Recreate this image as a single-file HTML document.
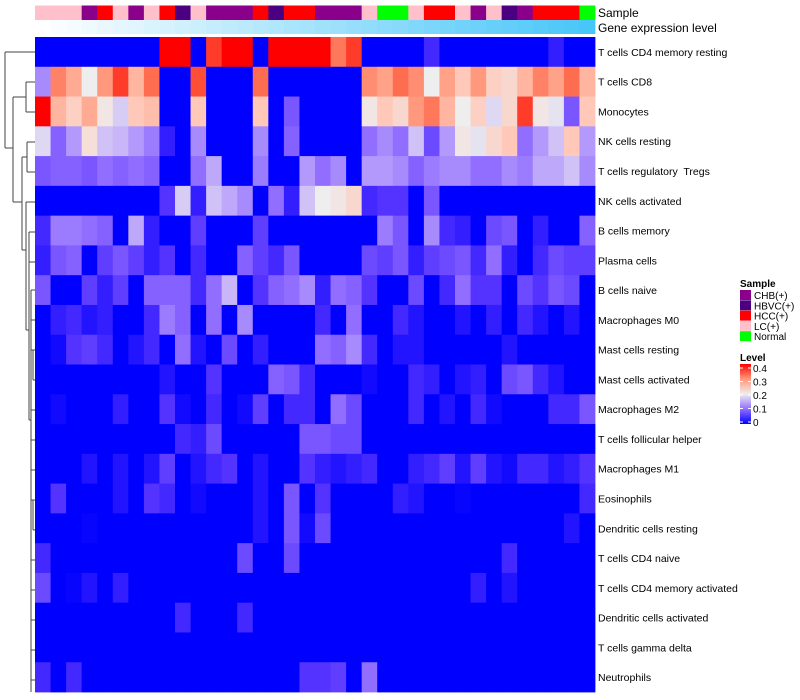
<!DOCTYPE html>
<html><head><meta charset="utf-8"><style>
body{margin:0;background:#fff;font-family:"Liberation Sans",sans-serif}
svg{display:block}
text{white-space:pre}
</style></head><body>
<svg id="chart" width="800" height="700" xmlns="http://www.w3.org/2000/svg"></svg>
<script>
const rowLabels=["T cells CD4 memory resting","T cells CD8","Monocytes","NK cells resting","T cells regulatory  Tregs","NK cells activated","B cells memory","Plasma cells","B cells naive","Macrophages M0","Mast cells resting","Mast cells activated","Macrophages M2","T cells follicular helper","Macrophages M1","Eosinophils","Dendritic cells resting","T cells CD4 naive","T cells CD4 memory activated","Dendritic cells activated","T cells gamma delta","Neutrophils"];
const sampleGroups=["LC","LC","LC","CHB","HCC","LC","CHB","LC","HCC","HBVC","LC","CHB","CHB","CHB","HCC","HBVC","HCC","HCC","CHB","CHB","CHB","LC","Normal","Normal","LC","HCC","HCC","LC","CHB","LC","HBVC","CHB","HCC","HCC","HCC","Normal"];
const legendGroups=["CHB","HBVC","HCC","LC","Normal"];
const legendLabels=["CHB(+)","HBVC(+)","HCC(+)","LC(+)","Normal"];
const levelTicks=[0,0.1,0.2,0.3,0.4];
const v=[
[0,0,0,0,0,0,0,0,0.4,0.4,0,0.37,0.4,0.4,0,0.4,0.4,0.4,0.4,0.33,0.37,0,0,0,0,0.04,0,0,0,0,0,0,0,0.03,0,0],
[0.12,0.32,0.28,0.2,0.3,0.37,0.27,0.34,0,0,0.36,0,0,0,0.34,0,0,0,0,0,0,0.31,0.29,0.34,0.31,0.2,0.29,0.25,0.3,0.24,0.23,0.27,0.32,0.29,0.34,0.27],
[0.4,0.27,0.24,0.28,0.21,0.17,0.25,0.26,0,0,0.25,0,0,0,0.25,0,0.08,0,0,0,0,0.21,0.25,0.23,0.3,0.33,0.27,0.2,0.24,0.18,0.23,0.37,0.21,0.19,0.08,0.25],
[0.18,0.09,0.13,0.22,0.16,0.15,0.13,0.11,0.03,0,0.12,0,0,0,0.12,0,0.09,0,0,0,0,0.1,0.12,0.1,0.16,0.07,0.13,0.21,0.19,0.23,0.25,0.1,0.13,0.16,0.25,0.13],
[0.08,0.09,0.09,0.08,0.1,0.09,0.1,0.09,0,0,0.1,0.14,0,0,0.11,0,0,0.13,0.1,0.12,0,0.13,0.13,0.12,0.09,0.11,0.12,0.12,0.1,0.1,0.12,0.11,0.14,0.14,0.16,0.12],
[0,0,0,0,0,0,0,0,0.05,0.17,0.03,0.16,0.14,0.12,0,0.1,0.03,0.16,0.2,0.21,0.23,0.04,0.05,0.05,0,0.08,0,0,0,0,0,0,0,0,0,0],
[0.04,0.11,0.11,0.1,0.09,0,0.14,0.03,0,0,0.06,0,0,0,0.06,0,0,0,0,0,0,0,0.11,0.08,0,0.12,0.04,0.03,0,0.07,0.08,0,0.03,0,0,0.09],
[0.03,0.08,0.09,0,0.06,0.08,0.06,0.03,0.05,0,0.04,0,0,0.09,0.06,0.04,0.08,0,0,0,0,0.07,0.06,0.08,0.03,0.06,0.07,0.08,0.04,0.1,0.03,0,0.04,0.07,0.06,0.06],
[0.08,0,0,0.06,0.03,0.06,0,0.09,0.09,0.09,0.04,0.1,0.15,0,0.05,0.09,0.1,0.12,0.03,0.1,0.09,0.05,0,0,0.07,0,0.04,0.1,0.05,0.05,0,0.07,0.05,0.08,0.07,0],
[0,0.03,0.04,0.02,0.03,0,0,0.04,0.11,0.09,0,0.1,0,0.12,0,0,0,0,0.04,0,0.1,0,0,0.04,0.02,0,0,0.02,0,0.03,0,0.04,0.02,0,0.02,0],
[0,0.01,0.05,0.06,0.04,0,0.02,0.04,0,0.1,0.02,0,0.07,0,0.03,0,0,0,0.1,0.09,0.12,0.04,0,0.02,0.02,0,0,0,0,0,0.02,0,0,0,0,0],
[0,0,0,0,0,0,0,0,0.02,0,0,0.05,0,0,0,0.09,0.08,0.04,0,0,0,0.01,0,0,0.04,0.03,0,0.02,0.03,0,0.07,0.08,0.04,0.02,0,0],
[0,0.01,0,0,0,0.03,0,0,0.05,0.01,0,0.04,0,0.01,0.06,0,0.04,0.04,0,0.1,0.07,0,0,0,0.04,0,0.02,0,0.04,0.01,0,0,0,0.04,0.04,0.08],
[0,0,0,0,0,0,0,0,0,0.04,0.03,0.07,0,0,0,0,0,0.08,0.08,0.07,0.07,0,0,0,0,0,0,0,0,0,0,0,0,0,0,0],
[0,0,0,0.02,0,0.02,0,0.02,0.06,0,0.02,0.04,0.05,0,0.02,0,0,0.05,0.03,0.02,0.03,0.04,0,0,0.03,0.04,0.06,0.02,0.06,0.02,0.01,0.04,0.04,0.02,0.03,0.05],
[0,0.05,0,0,0,0.02,0,0.05,0.04,0,0.01,0,0,0,0.02,0,0.08,0,0.05,0,0,0,0,0.03,0.02,0,0,0.005,0,0,0,0,0,0,0,0.04],
[0,0,0,0.005,0,0,0,0,0,0,0,0,0,0,0.02,0,0.08,0.01,0.07,0,0,0,0,0,0,0,0,0,0,0,0,0,0,0,0.02,0],
[0.04,0,0,0,0,0,0,0,0,0,0,0,0,0.07,0,0,0.07,0,0,0,0,0,0,0,0,0,0,0,0,0,0.04,0,0,0,0,0],
[0.07,0,0.005,0.02,0,0.03,0,0,0,0,0,0,0,0,0,0,0,0,0,0,0,0,0,0,0,0,0,0,0.03,0,0.02,0,0,0,0,0],
[0,0,0,0,0,0,0,0,0,0.04,0,0,0,0.04,0,0,0,0,0,0,0,0,0,0,0,0,0,0,0,0,0,0,0,0,0,0],
[0,0,0,0,0,0,0,0,0,0,0,0,0,0,0,0,0,0,0,0,0,0,0,0,0,0,0,0,0,0,0,0,0,0,0,0],
[0.04,0,0.04,0,0,0,0,0,0,0,0,0,0,0,0,0,0,0.05,0.05,0.06,0,0.1,0,0,0,0,0,0,0,0,0,0,0,0,0,0]
];
const groupColor={CHB:"#8b008b",HBVC:"#4b0082",HCC:"#ff0000",LC:"#ffc0cb",Normal:"#00ff00"};
const NS="http://www.w3.org/2000/svg";
const svg=document.getElementById('chart');
const X0=35,X1=595,Y0=37,Y1=692;
const nc=sampleGroups.length,nr=rowLabels.length;
const cw=(X1-X0)/nc,rh=(Y1-Y0)/nr;
const xCol=i=>X0+i*cw, yRow=j=>Y0+j*rh;
function mk(t,a){const e=document.createElementNS(NS,t);for(const k in a)e.setAttribute(k,a[k]);svg.appendChild(e);return e;}
function lerp(a,b,t){return a.map((x,i)=>Math.round(x+(b[i]-x)*t));}
const stops=[[0,0,255],[84,50,255],[145,110,255],[200,182,248],[238,238,238],[255,200,184],[255,152,124],[255,98,70],[255,0,0]];
function col(val){const t=Math.max(0,Math.min(1,val/0.4))*(stops.length-1);
 const k=Math.min(stops.length-2,Math.floor(t));const c=lerp(stops[k],stops[k+1],t-k);
 return `rgb(${c[0]},${c[1]},${c[2]})`;}
sampleGroups.forEach((g,i)=>{const e=mk('rect',{x:xCol(i),y:5.5,width:cw+0.4,height:14.5,fill:groupColor[g]});

});
sampleGroups.forEach((g,i)=>{const c=lerp([255,255,255],[72,198,248],i/(nc-1));const e=mk('rect',{x:xCol(i),y:20,width:cw+0.4,height:14,fill:`rgb(${c})`});

});
v.forEach((row,j)=>row.forEach((val,i)=>{const e=mk('rect',{x:xCol(i),y:yRow(j),width:cw+0.4,height:rh+0.4,fill:col(val)});

}));
function txt(s,x,y,a){const e=mk('text',Object.assign({x:x,y:y,'font-size':11,fill:'#000'},a||{}));e.textContent=s;return e;}
rowLabels.forEach((s,j)=>{const e=txt(s,598,yRow(j)+rh/2+4,{'font-size':10.5});

});
let e=txt("Sample",598,17,{'font-size':12});
e=txt("Gene expression level",598,32,{'font-size':12});
e=txt("Sample",740,287,{'font-size':10,'font-weight':'bold'});
legendGroups.forEach((g,k)=>{const r=mk('rect',{x:740,y:290+k*10.3,width:11,height:10,fill:groupColor[g]});


const t=txt(legendLabels[k],754,299+k*10.3,{'font-size':10});

});
e=txt("Level",740,361,{'font-size':10,'font-weight':'bold'});
const defs=mk('defs',{});defs.innerHTML='<linearGradient id="lg" x1="0" y1="1" x2="0" y2="0"><stop offset="0" stop-color="#0000ff"/><stop offset="0.25" stop-color="#916eff"/><stop offset="0.5" stop-color="#eeeeee"/><stop offset="0.75" stop-color="#ff987c"/><stop offset="1" stop-color="#ff0000"/></linearGradient>';
e=mk('rect',{x:740,y:364,width:11,height:60,fill:'url(#lg)'});
levelTicks.forEach(t=>{const y=422-t/0.4*54;mk('line',{x1:740,x2:743,y1:y,y2:y,stroke:'#fff'});mk('line',{x1:748,x2:751,y1:y,y2:y,stroke:'#fff'});
const l=txt(String(t),753,y+4,{'font-size':10});

});
const segs=[[5,52,5,148],[5,52,35,52],[5,148,13,148],[13,97,13,202],[13,97,26,97],[26,82,26,112],[26,82,35,82],[26,112,35,112],
[13,202,22,202],[22,157,22,250],[22,157,27,157],[27,142,27,172],[27,142,35,142],[27,172,35,172],[22,250,26,250],[26,202,26,330],[26,202,35,202],
[26,330,29,330],[29,232,29,420],[29,232,35,232],[29,262,35,262],[29,420,31,420],[31,290,31,692],[31,290,35,290],
[31,320,35,320],[31,350,33,350],[33,350,33,380],[33,350,35,350],[33,380,35,380],[31,410,35,410],[31,440,35,440],[31,470,35,470],[31,500,33,500],[33,500,33,530],[33,500,35,500],[33,530,35,530],[31,560,35,560],[31,590,35,590],[31,620,35,620],[31,650,35,650],[31,680,35,680]];
segs.forEach(s=>{const l=mk('line',{x1:s[0],y1:s[1],x2:s[2],y2:s[3],stroke:'#444','stroke-width':1});

});
</script>
</body></html>
